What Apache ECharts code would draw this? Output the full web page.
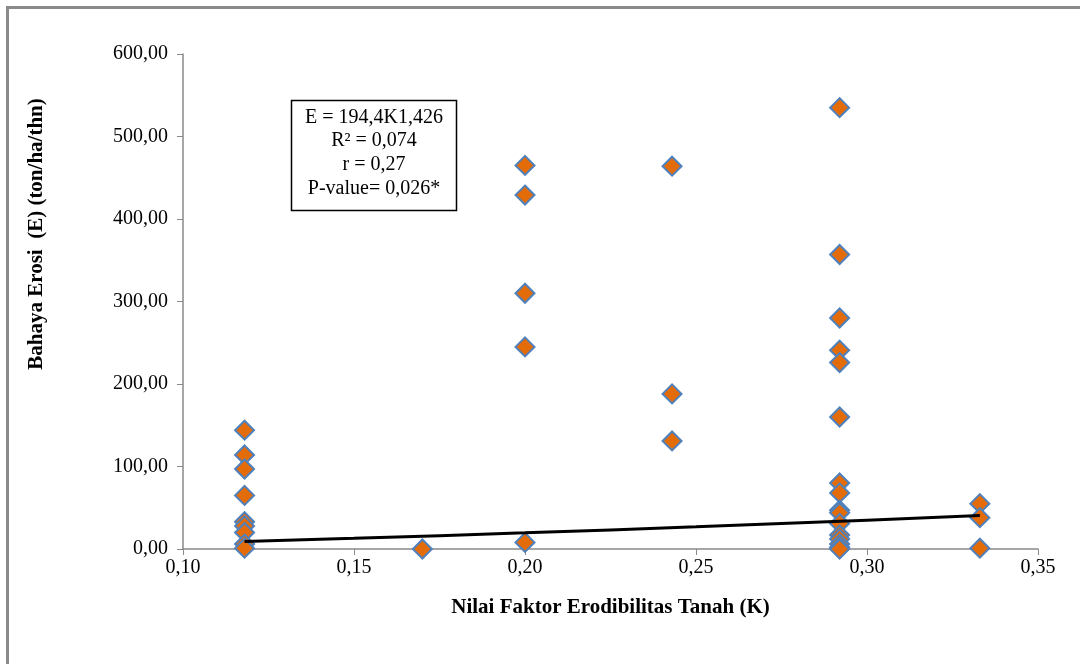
<!DOCTYPE html>
<html>
<head>
<meta charset="utf-8">
<script src="https://cdn.jsdelivr.net/npm/echarts@6/dist/echarts.min.js"></script>
<style>html,body{margin:0;padding:0;background:#fff;}#c{width:1080px;height:664px;}</style>
</head>
<body>
<div id="c"></div>
<script>
// K values (x) and E values (y) for observed points
const kValues = [
  0.118,0.118,0.118,0.118,0.118,0.118,0.118,0.118,0.118,
  0.170,
  0.200,0.200,0.200,0.200,0.200,
  0.243,0.243,0.243,
  0.292,0.292,0.292,0.292,0.292,0.292,0.292,0.292,0.292,0.292,0.292,0.292,0.292,0.292,0.292,0.292,
  0.333,0.333,0.333
];
const eValues = [
  144,114,97,65,33,28,20,6,1,
  0,
  465,429,310,245,8,
  464,188,131,
  535,357,280,241,226,160,80,68,47,44,31,17,12,6,2,0,
  55,38,1
];
// Power trendline E = 194.4 K^1.426 (values as displayed)
const trendK = [0.118,0.15,0.20,0.25,0.30,0.333];
const trendE = [9.2,13.0,19.6,26.9,34.9,40.5];
const yTicks = [0,100,200,300,400,500,600];
const annotation = ['E = 194,4K1,426','R² = 0,074','r = 0,27','P-value= 0,026*'];

const font = '"Liberation Serif","Times New Roman",serif';
const fmt = (v,d) => v.toFixed(d).replace('.',',');

const chart = echarts.init(document.getElementById('c'));
chart.setOption({
  animation:false,
  backgroundColor:'#fff',
  grid:{left:183, top:54, right:42, bottom:115},
  xAxis:{
    type:'value', min:0.10, max:0.35, interval:0.05,
    name:'Nilai Faktor Erodibilitas Tanah (K)', nameLocation:'middle', nameGap:48,
    nameTextStyle:{fontFamily:font, fontSize:21, fontWeight:'bold', color:'#000'},
    axisLine:{show:true, lineStyle:{color:'#898989', width:1.5}},
    axisTick:{show:true, length:6, lineStyle:{color:'#898989'}},
    axisLabel:{fontFamily:font, fontSize:20, color:'#000', margin:9, formatter:v=>fmt(v,2)},
    splitLine:{show:false}
  },
  yAxis:{
    type:'value', min:0, max:600, interval:100,
    axisLine:{show:true, lineStyle:{color:'#898989', width:1.5}},
    axisTick:{show:true, length:6, lineStyle:{color:'#898989'}},
    axisLabel:{fontFamily:font, fontSize:20, color:'#000', margin:15, formatter:v=>fmt(v,2)},
    splitLine:{show:false}
  },
  series:[
    {
      type:'line', data:trendK.map((k,i)=>[k,trendE[i]]), smooth:true,
      symbol:'none', lineStyle:{color:'#000', width:3}, z:3
    },
    {
      type:'scatter', data:kValues.map((k,i)=>[k,eValues[i]]),
      symbol:'diamond', symbolSize:19,
      itemStyle:{color:'#E36C09', borderColor:'#4F81BD', borderWidth:2, opacity:1},
      z:2
    }
  ],
  graphic:[
    {type:'line', shape:{x1:7.5,y1:6,x2:7.5,y2:664}, style:{stroke:'#8a8a8a', lineWidth:3}},
    {type:'line', shape:{x1:6,y1:7.5,x2:1080,y2:7.5}, style:{stroke:'#8a8a8a', lineWidth:3}},
    {type:'text', x:37, y:234, rotation:Math.PI/2,
     style:{text:'Bahaya Erosi  (E) (ton/ha/thn)', font:'bold 21px '+font, fill:'#000', textAlign:'center', textVerticalAlign:'middle'}},
    {type:'rect', shape:{x:291.5,y:100.5,width:165,height:110}, style:{fill:'#fff', stroke:'#000', lineWidth:1.5}, z:10},
    {type:'text', x:374, y:118, z:11, style:{text:annotation[0], font:'20px '+font, fill:'#000', textAlign:'center', textVerticalAlign:'middle'}},
    {type:'text', x:374, y:141, z:11, style:{text:annotation[1], font:'20px '+font, fill:'#000', textAlign:'center', textVerticalAlign:'middle'}},
    {type:'text', x:374, y:165, z:11, style:{text:annotation[2], font:'20px '+font, fill:'#000', textAlign:'center', textVerticalAlign:'middle'}},
    {type:'text', x:374, y:189, z:11, style:{text:annotation[3], font:'20px '+font, fill:'#000', textAlign:'center', textVerticalAlign:'middle'}}
  ]
});
</script>
</body>
</html>
